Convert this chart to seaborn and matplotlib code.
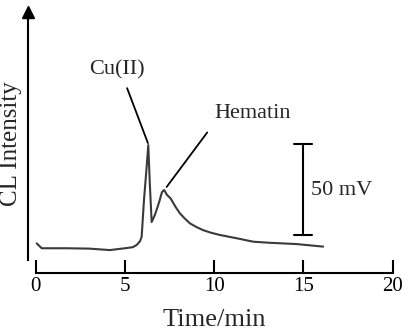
import numpy as np
import pandas as pd
import matplotlib
matplotlib.use("Agg")
import matplotlib.pyplot as plt
import seaborn as sns

# --- data (time in min, signal in mV above the x axis line) ---
time_min = [0.06, 0.34, 1.0, 1.74, 3.0, 4.16, 5.0, 5.45, 5.66, 5.85, 5.94, 6.07,
            6.22, 6.31, 6.40, 6.50, 6.68, 6.92, 7.08, 7.20, 7.36, 7.56, 7.84,
            8.08, 8.35, 8.64, 9.0, 9.37, 9.8, 10.32, 11.26, 12.19, 13.13,
            14.62, 16.11]
cl_mv = [16.3, 13.6, 13.6, 13.6, 13.4, 12.6, 13.6, 14.2, 15.4, 17.5, 19.9, 40.1,
         58.4, 70.3, 48.4, 28.0, 31.9, 39.0, 44.5, 45.6, 42.9, 41.0, 36.3,
         32.8, 30.0, 27.3, 25.3, 23.6, 22.2, 20.9, 19.1, 17.2, 16.6,
         15.9, 14.5]
x_ticks = [0, 5, 10, 15, 20]
scale_x = 15.0
scale_lo, scale_hi = 21.0, 71.0
scale_label = "50 mV"

df = pd.DataFrame({"Time/min": time_min, "CL": cl_mv})

sns.set_style("white")
plt.rcParams["font.family"] = ["Liberation Serif", "DejaVu Serif"]

fig = plt.figure(figsize=(4.10, 3.31), dpi=100)
ax = fig.add_axes([0.0695, 0.1752, 0.906, 0.8127])

sns.lineplot(data=df, x="Time/min", y="CL", ax=ax, color="#3a3a3a", linewidth=1.5)

ax.set_xlim(-0.4, 20.41)
ax.set_ylim(0, 147.8)

# axes styling: detached arrow y axis, x axis with inward ticks
for side in ["top", "right"]:
    ax.spines[side].set_visible(False)
ax.spines["bottom"].set_bounds(0, 20)
ax.spines["left"].set_bounds(7.1, 144)
for side in ["left", "bottom"]:
    ax.spines[side].set_linewidth(1.5)
    ax.spines[side].set_color("black")
ax.plot(-0.4, 143.5, marker="^", markersize=8, color="black", clip_on=False)

ax.set_xticks(x_ticks)
ax.set_yticks([])
ax.tick_params(axis="x", bottom=True, direction="in", length=9.4, width=1.5,
               pad=3, labelsize=15, colors="black")

ax.set_xlabel("Time/min", fontsize=19, labelpad=9)
ax.set_ylabel("CL Intensity", fontsize=18)
ax.yaxis.label.set_va("center")
ax.yaxis.set_label_coords(-0.046, 0.48)

# scale bar
cap = 0.5
ax.plot([scale_x, scale_x], [scale_lo, scale_hi], color="black", lw=1.5)
ax.plot([scale_x - cap, scale_x + cap], [scale_hi, scale_hi], color="black", lw=1.5)
ax.plot([scale_x - cap, scale_x + cap], [scale_lo, scale_lo], color="black", lw=1.5)
ax.text(scale_x + 0.4, 45.6, scale_label, fontsize=16, ha="left", va="center")

# peak labels
ax.annotate("Cu(II)", xy=(6.29, 71.4), xytext=(4.54, 111.5), fontsize=16,
            ha="center", va="center",
            arrowprops=dict(arrowstyle="-", color="black", lw=1.3,
                            relpos=(0.63, 0.0), shrinkA=4, shrinkB=0))
ax.annotate("Hematin", xy=(7.34, 47.3), xytext=(12.17, 87.9), fontsize=16,
            ha="center", va="center",
            arrowprops=dict(arrowstyle="-", color="black", lw=1.3,
                            relpos=(0.0, 0.0), shrinkA=6, shrinkB=0))

plt.savefig("out.png", dpi=100)
